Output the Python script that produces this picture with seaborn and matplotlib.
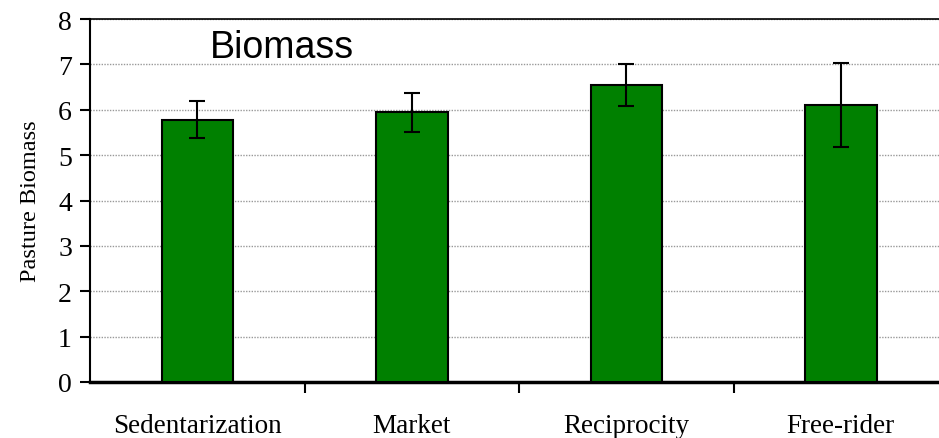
import matplotlib
matplotlib.use("Agg")
import matplotlib.pyplot as plt
import seaborn as sns
import pandas as pd
import numpy as np

categories = ["Sedentarization", "Market", "Reciprocity", "Free-rider"]
biomass = [5.78, 5.94, 6.54, 6.10]
errors = [0.41, 0.42, 0.46, 0.93]
y_ticks = [0, 1, 2, 3, 4, 5, 6, 7, 8]

df = pd.DataFrame({"treatment": categories, "biomass": biomass})

sns.set_theme(style="white", rc={"text.color": "black", "axes.labelcolor": "black",
                                 "xtick.color": "black", "ytick.color": "black"})
plt.rcParams["font.family"] = ["Liberation Serif", "DejaVu Serif"]

fig = plt.figure(figsize=(9.39, 4.39), dpi=100)
ax = fig.add_axes([90 / 939, 1 - 383 / 439, 858 / 939, 363 / 439])

sns.barplot(data=df, x="treatment", y="biomass", color="#008000", saturation=1,
            width=1 / 3, edgecolor="black", linewidth=1.5, errorbar=None, ax=ax, zorder=3)
xpos = np.arange(len(categories))
ax.errorbar(xpos, biomass, yerr=errors, fmt="none", ecolor="black", elinewidth=1.5,
            capsize=6, capthick=1.5, zorder=4)

ax.set_xlim(-0.5, len(categories) - 0.5)
ax.set_ylim(0, 8)
ax.set_yticks(y_ticks)
ax.yaxis.grid(True, color="#999999", linestyle=(0, (1, 1)), linewidth=1)
ax.set_axisbelow(True)

ax.tick_params(axis="y", which="major", direction="out", length=7, width=1.5,
               color="black", labelcolor="black", labelsize=20, pad=6, left=True)
ax.tick_params(axis="x", which="major", length=0, labelsize=19.5, pad=22,
               labelcolor="black")
ax.set_xticks(xpos[:-1] + 0.5, minor=True)
ax.tick_params(axis="x", which="minor", direction="out", length=8, width=1.5,
               color="black", bottom=True)

ax.set_xlabel("")
ax.set_ylabel("Pasture Biomass", fontsize=17.5, labelpad=12, color="black")

for side in ["left", "top", "right", "bottom"]:
    ax.spines[side].set_color("black")
ax.spines["left"].set_linewidth(1.5)
ax.spines["top"].set_linewidth(1.2)
ax.spines["bottom"].set_linewidth(2.5)

ax.text(0.14, 0.922, "Biomass", transform=ax.transAxes, fontsize=27,
        family=["Liberation Sans", "DejaVu Sans"], va="center", ha="left", color="black")

fig.savefig("out.png", dpi=100)
